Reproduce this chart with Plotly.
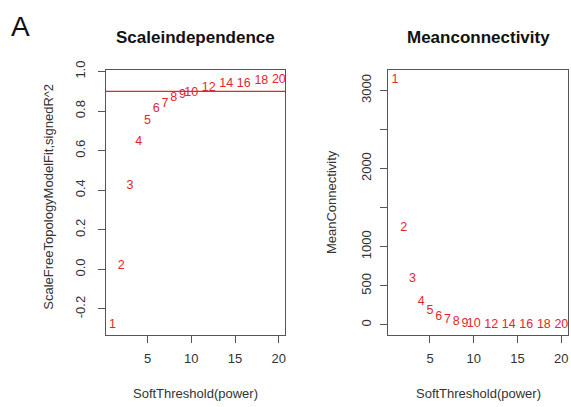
import plotly.graph_objects as go

powers = [1, 2, 3, 4, 5, 6, 7, 8, 9, 10, 12, 14, 16, 18, 20]
sft_r2 = [-0.28, 0.02, 0.42, 0.645, 0.75, 0.81, 0.835, 0.865, 0.88, 0.89,
          0.915, 0.94, 0.94, 0.955, 0.96]
mean_k = [3140, 1240, 590, 300, 182, 103, 70, 41, 16, 14, 6, 3, 2, 1, 1]

r2_cut = 0.9
left_ytickvals = [-0.2, 0.0, 0.2, 0.4, 0.6, 0.8, 1.0]
left_yticktext = ["-0.2", "0.0", "0.2", "0.4", "0.6", "0.8", "1.0"]
right_ytickvals = [0, 500, 1000, 1500, 2000, 2500, 3000]
right_yticktext = ["0", "500", "1000", "", "2000", "", "3000"]
xtickvals = [5, 10, 15, 20]

title_left = "Scaleindependence"
title_right = "Meanconnectivity"
xlab = "SoftThreshold(power)"
ylab_left = "ScaleFreeTopologyModelFit,signedR^2"
ylab_right = "MeanConnectivity"

RED = "#e3262e"
INK = "#333333"
BOX = "#555555"
FONT = "Liberation Sans, Arial, sans-serif"


def ext(vals):
    lo, hi = min(vals), max(vals)
    d = hi - lo
    return [lo - 0.04 * d, hi + 0.04 * d]


fig = go.Figure()
fig.add_trace(go.Scatter(x=powers, y=sft_r2, mode="text", text=[str(p) for p in powers],
                         textfont=dict(color=RED, size=12.5, family=FONT),
                         xaxis="x", yaxis="y", showlegend=False, hoverinfo="skip"))
fig.add_trace(go.Scatter(x=powers, y=mean_k, mode="text", text=[str(p) for p in powers],
                         textfont=dict(color=RED, size=12.5, family=FONT),
                         xaxis="x2", yaxis="y2", showlegend=False, hoverinfo="skip"))

fig.add_shape(type="line", xref="x domain", yref="y", x0=0, x1=1, y0=r2_cut, y1=r2_cut,
              line=dict(color=RED, width=1.3))

W, H = 571, 407
xd1 = [106 / W, 286 / W]
xd2 = [389 / W, 569 / W]
yd = [1 - 333 / H, 1 - 62 / H]

axis_common = dict(showline=True, mirror=True, linecolor=BOX, linewidth=1.3,
                   ticks="outside", ticklen=7, tickcolor=BOX, tickwidth=1.2,
                   showgrid=False, zeroline=False,
                   tickfont=dict(size=13, color=INK, family=FONT))

xr = ext(powers)
fig.update_layout(
    width=W, height=H,
    margin=dict(l=0, r=0, t=0, b=0),
    paper_bgcolor="white", plot_bgcolor="white",
    font=dict(family=FONT, color=INK),
    xaxis=dict(domain=xd1, range=xr, tickvals=xtickvals, anchor="y",
               ticklabelstandoff=5, **axis_common),
    yaxis=dict(domain=yd, range=ext(sft_r2), tickvals=left_ytickvals, ticktext=left_yticktext,
               tickangle=-90, anchor="x", ticklabelstandoff=7, **axis_common),
    xaxis2=dict(domain=xd2, range=xr, tickvals=xtickvals, anchor="y2",
                ticklabelstandoff=5, **axis_common),
    yaxis2=dict(domain=yd, range=ext(mean_k), tickvals=right_ytickvals, ticktext=right_yticktext,
                tickangle=-90, anchor="x2", ticklabelstandoff=4, **axis_common),
)

ann = [
    dict(text="A", x=9 / W, y=1 - 18 / H, font=dict(size=28, color="#111111")),
    dict(text="<b>" + title_left + "</b>", x=196 / W, y=1 - 29 / H, font=dict(size=17, color="#111111")),
    dict(text="<b>" + title_right + "</b>", x=479 / W, y=1 - 29 / H, font=dict(size=17, color="#111111")),
    dict(text=xlab, x=196 / W, y=1 - 393 / H, font=dict(size=13, color=INK)),
    dict(text=xlab, x=479 / W, y=1 - 393 / H, font=dict(size=13, color=INK)),
    dict(text=ylab_left, x=49 / W, y=1 - 192 / H, textangle=-90, font=dict(size=13, color=INK)),
    dict(text=ylab_right, x=332 / W, y=1 - 197 / H, textangle=-90, font=dict(size=13, color=INK)),
]
for a in ann:
    xanchor = "left" if a["text"] == "A" else "center"
    fig.add_annotation(xref="paper", yref="paper", showarrow=False,
                       xanchor=xanchor, yanchor="middle", **a)

fig.write_html("out.html")
